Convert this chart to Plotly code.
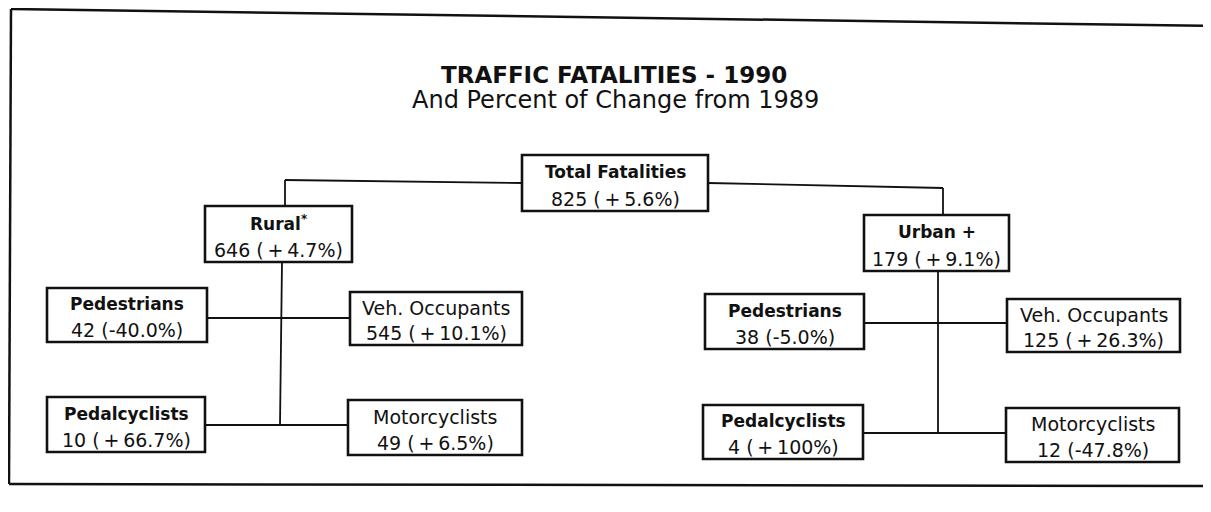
import plotly.graph_objects as go

# ---------------- data ----------------
node_ids = ["total", "rural", "urban",
            "r_ped", "r_veh", "r_pedal", "r_motor",
            "u_ped", "u_veh", "u_pedal", "u_motor"]
node_labels = ["Total Fatalities", "Rural<sup>*</sup>", "Urban +",
               "Pedestrians", "Veh. Occupants", "Pedalcyclists", "Motorcyclists",
               "Pedestrians", "Veh. Occupants", "Pedalcyclists", "Motorcyclists"]
fatalities = [825, 646, 179, 42, 545, 10, 49, 38, 125, 4, 12]
pct_change = [5.6, 4.7, 9.1, -40.0, 10.1, 66.7, 6.5, -5.0, 26.3, 100, -47.8]
label_bold = [True, True, True, True, False, True, False, True, False, True, False]

title_text = "TRAFFIC FATALITIES - 1990"
subtitle_text = "And Percent of Change from 1989"

# ---------------- layout (pixel positions of the diagram) ----------------
PAGE_W, PAGE_H = 1211, 512
OFF = 8  # default page body margin
W, H = PAGE_W - 2 * OFF, PAGE_H - 2 * OFF
box = {  # x0, x1, y0, y1
    "total":   (522, 708, 155, 211),
    "rural":   (205, 352, 206, 262),
    "urban":   (864, 1009, 215, 271),
    "r_ped":   (47, 207, 288, 342),
    "r_veh":   (350, 522, 292, 345),
    "r_pedal": (47, 205, 397, 452),
    "r_motor": (348, 522, 400, 455),
    "u_ped":   (705, 864, 294, 349),
    "u_veh":   (1007, 1180, 299, 352),
    "u_pedal": (703, 863, 405, 459),
    "u_motor": (1006, 1179, 408, 462),
}
connectors = [
    [(285, 180), (522, 183)], [(285, 180), (285, 206)],
    [(708, 183), (943, 188)], [(943, 188), (943, 215)],
    [(282, 262), (280, 425)],
    [(207, 318), (350, 318)],
    [(205, 425), (348, 425)],
    [(938, 271), (938, 433)],
    [(864, 323), (1007, 323)],
    [(863, 433), (1006, 433)],
]
frame = [[(11, 9), (1215, 26)],
         [(11, 9), (9, 484)],
         [(9, 484), (1215, 486)]]

FONT = "DejaVu Sans"


def fmt_pct(v):
    if v > 0:
        num = f"{v:.0f}" if abs(v) >= 100 else f"{v:.1f}"
        return "(\u2009+\u2009" + num + "%)"
    num = f"{abs(v):.0f}" if abs(v) >= 100 else f"{abs(v):.1f}"
    return "(-" + num + "%)"


fig = go.Figure()
shapes = []
annotations = []

for seg in frame + connectors:
    for (xa, ya), (xb, yb) in zip(seg[:-1], seg[1:]):
        w = 2.5 if seg in frame else 1.8
        shapes.append(dict(type="line", x0=xa, y0=ya, x1=xb, y1=yb,
                           xref="x", yref="y", line=dict(color="#111", width=w)))

for nid, lab, n, p, b in zip(node_ids, node_labels, fatalities, pct_change, label_bold):
    x0, x1, y0, y1 = box[nid]
    shapes.append(dict(type="rect", x0=x0, x1=x1, y0=y0, y1=y1, xref="x", yref="y",
                       line=dict(color="#111", width=2.6), fillcolor="white"))
    cx = (x0 + x1) / 2
    h = y1 - y0
    txt = f"<b>{lab}</b>" if b else lab
    annotations.append(dict(x=cx, y=y0 + h * 0.30, text=txt, showarrow=False,
                            xref="x", yref="y", xanchor="center", yanchor="middle",
                            font=dict(family=FONT, size=17 if b else 19, color="#111")))
    annotations.append(dict(x=cx, y=y0 + h * 0.78, text=f"{n} {fmt_pct(p)}", showarrow=False,
                            xref="x", yref="y", xanchor="center", yanchor="middle",
                            font=dict(family=FONT, size=19, color="#111")))

annotations.append(dict(x=614, y=75, text=f"<b>{title_text}</b>", showarrow=False,
                        xref="x", yref="y", xanchor="center", yanchor="middle",
                        font=dict(family=FONT, size=23, color="#111")))
annotations.append(dict(x=615, y=100, text=subtitle_text, showarrow=False,
                        xref="x", yref="y", xanchor="center", yanchor="middle",
                        font=dict(family=FONT, size=24, color="#111")))

fig.update_layout(
    width=W, height=H,
    margin=dict(l=0, r=0, t=0, b=0),
    paper_bgcolor="white", plot_bgcolor="white",
    xaxis=dict(range=[OFF, OFF + W], visible=False, fixedrange=True),
    yaxis=dict(range=[OFF + H, OFF], visible=False, fixedrange=True),
    shapes=shapes, annotations=annotations, showlegend=False,
)

fig.write_html("out.html", config={"displayModeBar": False})
